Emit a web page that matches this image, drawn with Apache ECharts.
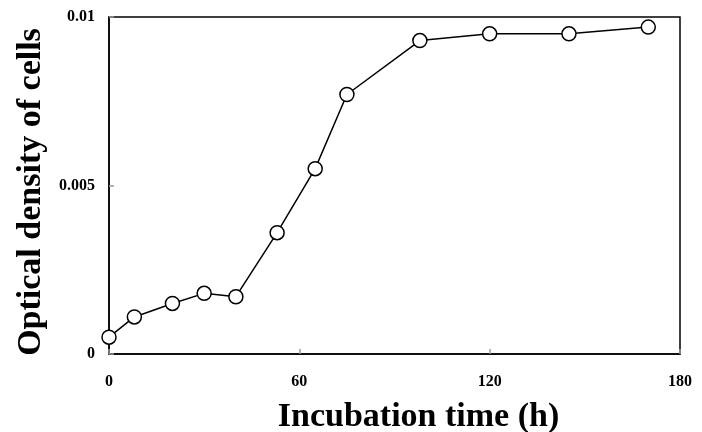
<!DOCTYPE html>
<html>
<head>
<meta charset="utf-8">
<script src="https://cdn.jsdelivr.net/npm/echarts@6/dist/echarts.min.js"></script>
<style>html,body{margin:0;padding:0;background:#fff;}#c{width:702px;height:432px;}</style>
</head>
<body>
<div id="c"></div>
<script>
var timeH = [0, 8, 20, 30, 40, 53, 65, 75, 98, 120, 145, 170];
var density = [0.0005, 0.0011, 0.0015, 0.0018, 0.0017, 0.0036, 0.0055, 0.0077, 0.0093, 0.0095, 0.0095, 0.0097];
var xTicks = [0, 60, 120, 180];
var yTicks = [0, 0.005, 0.01];

var pts = timeH.map(function (t, i) { return [t, density[i]]; });
var font = '"Liberation Serif", "Times New Roman", serif';
var chart = echarts.init(document.getElementById('c'), null, {renderer: 'canvas'});
chart.setOption({
  animation: false,
  backgroundColor: '#fff',
  grid: {left: 109, right: 22, top: 17, bottom: 78, show: true, borderColor: '#000', borderWidth: 1.5,
    backgroundColor: 'transparent', containLabel: false, outerBoundsMode: 'none'},
  xAxis: {
    type: 'value', min: 0, max: 180, interval: 60,
    name: 'Incubation time (h)', nameLocation: 'middle', nameGap: 46,
    nameTextStyle: {fontFamily: font, fontWeight: 'bold', fontSize: 34, color: '#000', padding: [0, 0, 0, 48]},
    axisLine: {show: true, lineStyle: {color: '#000', width: 1.5}},
    axisTick: {show: true, inside: true, length: 5, lineStyle: {color: '#999', width: 1.5}},
    splitLine: {show: false},
    axisLabel: {fontFamily: font, fontWeight: 'bold', fontSize: 16, color: '#000', margin: 20,
      formatter: function (v) { return xTicks.indexOf(v) >= 0 ? String(v) : ''; }}
  },
  yAxis: {
    type: 'value', min: 0, max: 0.01, interval: 0.005,
    name: 'Optical density of cells', nameLocation: 'middle', nameGap: 56,
    nameTextStyle: {fontFamily: font, fontWeight: 'bold', fontSize: 34, color: '#000', padding: [0, 13, 0, 0]},
    axisLine: {show: true, lineStyle: {color: '#000', width: 1.5}},
    axisTick: {show: true, inside: true, length: 5, lineStyle: {color: '#999', width: 1.5}},
    splitLine: {show: false},
    axisLabel: {fontFamily: font, fontWeight: 'bold', fontSize: 16, color: '#000', margin: 14,
      formatter: function (v) {
        for (var i = 0; i < yTicks.length; i++) { if (Math.abs(v - yTicks[i]) < 1e-9) return String(yTicks[i]); }
        return '';
      }}
  },
  series: [{
    type: 'line', data: pts,
    symbol: 'circle', symbolSize: 14,
    itemStyle: {color: '#fff', borderColor: '#000', borderWidth: 1.5},
    lineStyle: {color: '#000', width: 1.5},
    z: 3
  }]
});
</script>
</body>
</html>
